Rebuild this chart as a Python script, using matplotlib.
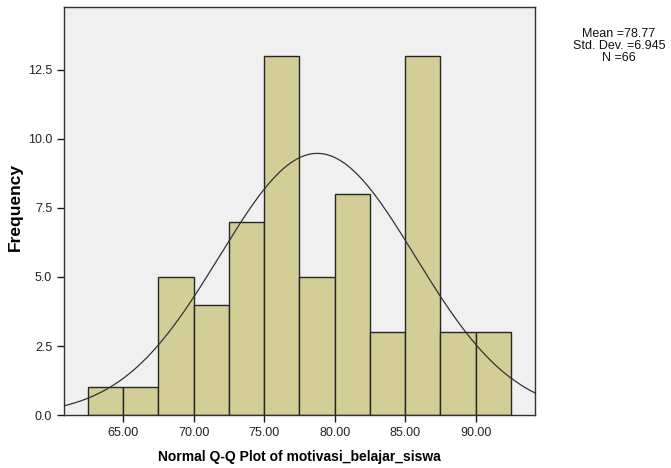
import numpy as np
import matplotlib
matplotlib.use("Agg")
import matplotlib.pyplot as plt

plt.rcParams['font.family'] = ['Liberation Sans', 'DejaVu Sans']

# bin edges and counts
bin_left = [62.5, 65.0, 67.5, 70.0, 72.5, 75.0, 77.5, 80.0, 82.5, 85.0, 87.5, 90.0]
counts = [1, 1, 5, 4, 7, 13, 5, 8, 3, 13, 3, 3]
bin_width = 2.5

mean = 78.77
std = 6.945
n = 66

xticks = [65, 70, 75, 80, 85, 90]
yticks = [0.0, 2.5, 5.0, 7.5, 10.0, 12.5]

fig = plt.figure(figsize=(6.71, 4.68), dpi=100)
ax = fig.add_axes([0.0954, 0.1132, 0.7016, 0.8718])
ax.set_facecolor('#f0f0f0')

ax.bar(bin_left, counts, width=bin_width, align='edge',
       color='#d3ce98', edgecolor='#262626', linewidth=1.0, zorder=2)

# normal curve scaled to counts
xs = np.linspace(60.8, 94.2, 400)
ys = n * bin_width / (std * np.sqrt(2 * np.pi)) * np.exp(-0.5 * ((xs - mean) / std) ** 2)
ax.plot(xs, ys, color='#333333', linewidth=0.9, zorder=3)

ax.set_xlim(60.8, 94.2)
ax.set_ylim(0, 14.78)
ax.set_xticks(xticks)
ax.set_xticklabels([f"{v:.2f}" for v in xticks])
ax.set_yticks(yticks)
ax.set_yticklabels([f"{v:.1f}" for v in yticks])
ax.tick_params(direction='out', length=5, width=1, colors='#1a1a1a',
               labelsize=9, labelcolor='#222222')
for s in ax.spines.values():
    s.set_color('#333333')
    s.set_linewidth(1.0)

ax.set_xlabel("Normal Q-Q Plot of motivasi_belajar_siswa", fontsize=10,
              fontweight='bold', labelpad=8)
ax.set_ylabel("Frequency", fontsize=12.5, fontweight='bold')
ax.yaxis.set_label_coords(-0.087, 0.51)

fig.text(0.9225, 0.94, f"Mean ={mean}\nStd. Dev. ={std}\nN ={n}",
         ha='center', va='top', fontsize=9, linespacing=1.0, color='#111111')

fig.savefig("out.png", dpi=100)
